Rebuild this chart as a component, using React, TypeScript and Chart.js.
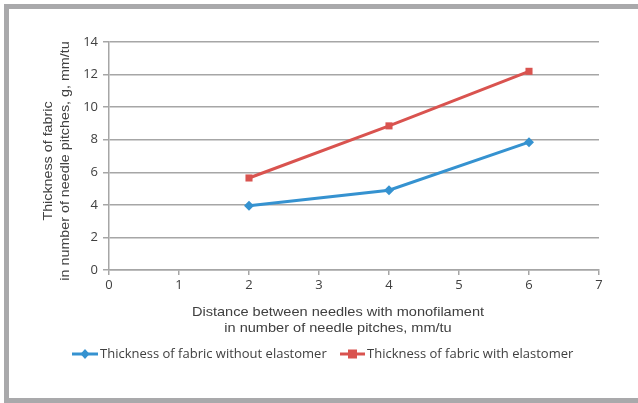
import React, { useEffect, useRef } from "react";
import { Chart, registerables } from "chart.js";

Chart.register(...registerables);

const distances = [2, 4, 6];
const withoutElastomer = [3.95, 4.9, 7.85];
const withElastomer = [5.65, 8.85, 12.2];
const seriesLabels = [
  "Thickness of fabric without elastomer",
  "Thickness of fabric with elastomer",
];
const yTitleLines = ["Thickness of fabric", "in number of needle pitches, g, mm/tu"];
const xTitleLines = [
  "Distance between needles with monofilament",
  "in number of needle pitches, mm/tu",
];

const BLUE = "#3592d0";
const RED = "#d9534f";
const GRID = "#a6a6a6";
const TEXT = "#404040";
const FONT = "Liberation Sans, Arial, sans-serif";
const TICK_FONT = "Open Sans, sans-serif";

// draw text stretched horizontally (in its own direction) by factor sx
function stretchedText(
  ctx: CanvasRenderingContext2D,
  text: string,
  x: number,
  y: number,
  sx: number,
  rotate = 0
) {
  ctx.save();
  ctx.translate(x, y);
  if (rotate) ctx.rotate(rotate);
  ctx.scale(sx, 1);
  ctx.fillText(text, 0, 0);
  ctx.restore();
}

const decorPlugin = {
  id: "decor",
  afterDraw(chart: any) {
    const ctx = chart.ctx as CanvasRenderingContext2D;
    const W = chart.width;
    const H = chart.height;
    ctx.save();
    // frame
    ctx.fillStyle = "#a9a9ab";
    ctx.fillRect(4, 4, W - 4, 5);
    ctx.fillRect(4, 4, 5, H - 4);
    ctx.fillRect(4, H - 5, W - 4, 5);

    ctx.fillStyle = TEXT;
    ctx.font = `13px ${FONT}`;
    ctx.textAlign = "center";
    ctx.textBaseline = "middle";
    // x title
    stretchedText(ctx, xTitleLines[0], 338, 312, 1.12);
    stretchedText(ctx, xTitleLines[1], 338, 328, 1.12);
    // y title
    stretchedText(ctx, yTitleLines[0], 48, 161, 1.1, -Math.PI / 2);
    stretchedText(ctx, yTitleLines[1], 65, 161, 1.1, -Math.PI / 2);

    // legend
    const ly = 354;
    const items = [
      { x0: 72, x1: 98, color: BLUE, label: seriesLabels[0], marker: "diamond" },
      { x0: 340, x1: 365, color: RED, label: seriesLabels[1], marker: "square" },
    ];
    ctx.font = `13px ${TICK_FONT}`;
    for (const it of items) {
      ctx.strokeStyle = it.color;
      ctx.lineWidth = 3;
      ctx.beginPath();
      ctx.moveTo(it.x0, ly);
      ctx.lineTo(it.x1, ly);
      ctx.stroke();
      ctx.fillStyle = it.color;
      const cx = (it.x0 + it.x1) / 2;
      if (it.marker === "diamond") {
        ctx.beginPath();
        ctx.moveTo(cx, ly - 5);
        ctx.lineTo(cx + 4.5, ly);
        ctx.lineTo(cx, ly + 5);
        ctx.lineTo(cx - 4.5, ly);
        ctx.closePath();
        ctx.fill();
      } else {
        ctx.fillRect(cx - 4.5, ly - 4.5, 9, 9);
      }
      ctx.fillStyle = TEXT;
      ctx.textAlign = "left";
      ctx.fillText(it.label, it.x1 + 2, ly);
    }
    ctx.restore();
  },
};

export default function App() {
  const ref = useRef<HTMLCanvasElement | null>(null);
  useEffect(() => {
    if (!ref.current) return;
    const chart = new Chart(ref.current, {
      type: "line",
      data: {
        datasets: [
          {
            label: seriesLabels[0],
            data: distances.map((x, i) => ({ x, y: withoutElastomer[i] })),
            borderColor: BLUE,
            backgroundColor: BLUE,
            borderWidth: 3,
            pointStyle: "rectRot",
            pointRadius: 5,
            pointBorderWidth: 0,
          },
          {
            label: seriesLabels[1],
            data: distances.map((x, i) => ({ x, y: withElastomer[i] })),
            borderColor: RED,
            backgroundColor: RED,
            borderWidth: 3,
            pointStyle: "rect",
            pointRadius: 5,
            pointBorderWidth: 0,
          },
        ],
      },
      options: {
        responsive: false,
        animation: false,
        layout: { padding: { left: 0, top: 42, right: 39, bottom: 0 } },
        plugins: { legend: { display: false }, tooltip: { enabled: false } },
        scales: {
          x: {
            type: "linear",
            min: 0,
            max: 7,
            ticks: {
              stepSize: 1,
              color: TEXT,
              font: { size: 13, family: TICK_FONT },
              padding: 2,
            },
            grid: {
              drawOnChartArea: false,
              drawTicks: true,
              tickLength: 5,
              color: GRID,
              lineWidth: 1.5,
            },
            border: { display: true, color: GRID, width: 1.5 },
            afterFit(scale: any) {
              scale.height = 133;
            },
          },
          y: {
            type: "linear",
            min: 0,
            max: 14,
            ticks: {
              stepSize: 2,
              color: TEXT,
              font: { size: 13, family: TICK_FONT },
              padding: 5,
            },
            grid: {
              drawTicks: true,
              tickLength: 6,
              color: GRID,
              lineWidth: 1.5,
            },
            border: { display: true, color: GRID, width: 1.5 },
            afterFit(scale: any) {
              scale.width = 109;
            },
          },
        },
      },
      plugins: [decorPlugin],
    });
    return () => chart.destroy();
  }, []);
  return (
    <div style={{ position: "absolute", left: 0, top: 0, width: 638, height: 403, background: "#fff" }}>
      <canvas ref={ref} width={638} height={403} style={{ display: "block" }} />
    </div>
  );
}
